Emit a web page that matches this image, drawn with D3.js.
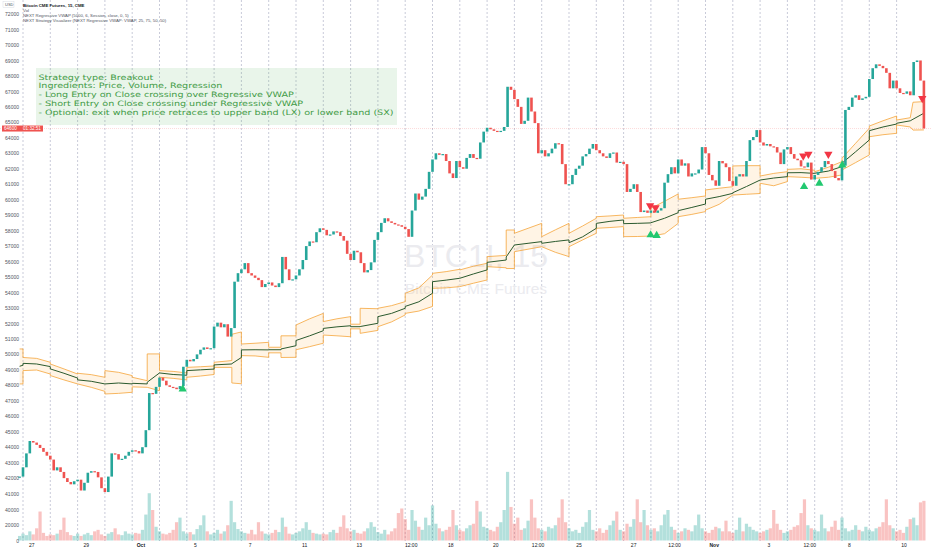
<!DOCTYPE html>
<html>
<head>
<meta charset="utf-8">
<style>
    body { margin: 0; background: #ffffff; }
    svg { display: block; font-family: "Liberation Sans", Arial, sans-serif; }
    .axis .domain { display: none; }
    .axis .tick line { display: none; }
    .axis .tick text { font-size: 5px; fill: #50535e; }
    .x.axis .tick text { fill: #131722; }
</style>
</head>
<body>
<svg width="932" height="550"></svg>

<script src="https://d3js.org/d3.v7.min.js"></script>
<script>

// closes, one bar per 1/8 session (first value sits just before session 0)
let closes = [42100,
    42700, 43600, 44400, 44300, 44150, 43950, 43700, 43450,
    43200, 42500, 42700, 42400, 42000, 41750, 41600, 41800,
    41900, 41200, 41700, 42350, 42450, 42400, 42050, 41350,
    41100, 42100, 43600, 43550, 43200, 43250, 43450, 43700,
    43800, 43750, 43600, 44000, 45100, 47500, 47450, 47900,
    48500, 48300, 48000, 47900, 47850, 47750, 47950, 49200,
    49650, 49550, 49700, 50000, 50300, 50450, 50350, 50400,
    51800, 52050, 51750, 51950, 51150, 51700, 54700, 55250,
    55500, 55900, 55250, 55100, 54950, 54800, 54350, 54550,
    54650, 54450, 54350, 54600, 56300, 55500, 54800, 54850,
    55100, 55500, 56100, 57000, 57300, 57250, 57900, 58150,
    58050, 57700, 57750, 57950, 57900, 57650, 57350, 56500,
    56100, 56700, 56600, 55900, 55300, 55450, 55950, 57400,
    57900, 58500, 58800, 58600, 58500, 58400, 58350, 58250,
    58100, 57600, 59300, 60400, 60000, 60200, 60700, 61800,
    62600, 63000, 62900, 62950, 62500, 61700, 61400, 62500,
    62100, 62000, 62700, 62950, 62700, 62650, 63700, 64400,
    64650, 64550, 64450, 64400, 64450, 64700, 67300, 67100,
    66500, 66000, 64900, 65100, 66600, 65700, 64950, 63000,
    63200, 62800, 63000, 63300, 63650, 63600, 62300, 61000,
    61000, 61600, 62000, 62200, 62800, 62950, 63300, 63600,
    63200, 63000, 62800, 62700, 63000, 63050, 62400, 62450,
    62300, 60500, 60700, 61000, 60500, 59200, 59300, 59150,
    59300, 59150, 59300, 59450, 61100, 61650, 62100, 61700,
    62600, 62200, 62350, 61500, 61700, 61700, 61950, 63400,
    63000, 61600, 61250, 60900, 62500, 62350, 62100, 61200,
    60900, 61500, 61650, 61500, 62500, 63850, 64050, 64500,
    63700, 63500, 63600, 63450, 63400, 63050, 62300, 63250,
    63400, 62950, 62650, 62550, 62150, 62100, 62400, 61300,
    61600, 61800, 62100, 62500, 62300, 61850, 61400, 61250,
    62200, 65800, 66000, 66600, 66750, 66450, 66550, 66650,
    67800, 68500, 68750, 68650, 68500, 68200, 67200, 67700,
    67200, 66900, 66850, 67000, 66750, 68900, 69000, 67700, 64600]

let volumes = [6000,
    9000, 7000, 12000, 8000, 16000, 38000, 10000, 6000,
    8000, 7000, 9000, 14000, 30000, 11000, 7000, 6000,
    9000, 6000, 8000, 10000, 7000, 12000, 14000, 8000,
    6000, 9000, 11000, 16000, 8000, 7000, 12000, 9000,
    8000, 10000, 9000, 14000, 34000, 62000, 40000, 18000,
    12000, 9000, 8000, 10000, 14000, 24000, 30000, 12000,
    9000, 11000, 8000, 15000, 20000, 33000, 12000, 8000,
    10000, 14000, 9000, 12000, 20000, 52000, 24000, 15000,
    12000, 10000, 9000, 14000, 8000, 24000, 12000, 9000,
    8000, 10000, 14000, 11000, 30000, 18000, 9000, 8000,
    10000, 12000, 16000, 24000, 14000, 10000, 9000, 8000,
    9000, 8000, 11000, 14000, 10000, 18000, 33000, 16000,
    12000, 14000, 10000, 9000, 12000, 16000, 24000, 18000,
    11000, 9000, 14000, 8000, 12000, 16000, 36000, 42000,
    28000, 14000, 40000, 26000, 18000, 14000, 30000, 20000,
    46000, 22000, 16000, 12000, 14000, 18000, 40000, 20000,
    14000, 12000, 16000, 20000, 22000, 52000, 38000, 18000,
    16000, 14000, 12000, 18000, 24000, 40000, 90000, 44000,
    22000, 30000, 14000, 16000, 26000, 54000, 30000, 16000,
    14000, 12000, 18000, 16000, 20000, 30000, 54000, 24000,
    16000, 12000, 14000, 10000, 18000, 24000, 40000, 14000,
    12000, 16000, 10000, 14000, 20000, 26000, 38000, 14000,
    12000, 22000, 18000, 28000, 54000, 24000, 40000, 20000,
    14000, 16000, 12000, 20000, 34000, 40000, 18000, 14000,
    10000, 12000, 16000, 14000, 12000, 20000, 34000, 16000,
    12000, 10000, 14000, 18000, 16000, 12000, 26000, 12000,
    10000, 14000, 30000, 12000, 22000, 18000, 14000, 12000,
    10000, 12000, 14000, 16000, 40000, 22000, 14000, 10000,
    12000, 14000, 18000, 20000, 36000, 54000, 20000, 16000,
    14000, 12000, 34000, 16000, 12000, 18000, 26000, 14000,
    30000, 16000, 12000, 14000, 20000, 14000, 12000, 18000,
    14000, 12000, 16000, 18000, 24000, 54000, 20000, 16000,
    12000, 14000, 10000, 18000, 28000, 30000, 20000, 50000, 52000]

// regressive vwap + bands, time in sessions (repeated time = session reset)
let bandT = [-0.125, 0, 0, 0.5, 1, 1, 1.5, 2, 2, 2.5, 3, 3, 3.5, 4, 4, 4.55, 4.55, 5,
    5, 5.5, 6, 6, 6.5, 7, 7, 7.65, 7.65, 8, 8, 8.5, 9, 9, 9.45, 9.45, 10,
    10, 10.5, 11, 11, 11.5, 12, 12, 12.35, 12.35, 13, 13, 13.5, 14, 14, 14.5, 15,
    15, 15.5, 16, 16, 16.5, 17, 17, 17.7, 17.7, 18, 18, 18.5, 19, 19, 19.5, 20,
    20, 20.5, 21, 21, 21.5, 22, 22, 22.5, 23, 23, 23.5, 24, 24, 24.5, 25,
    25, 25.5, 26, 26, 26.5, 27, 27, 27.5, 28, 28, 28.5, 29, 29, 29.5, 30,
    30, 30.5, 31, 31, 31.5, 32, 32, 32.5, 32.6, 33]
let bandUpper = [50350, 50350, 49800, 49740, 49490, 49380, 49060, 48730, 48780, 48690, 48520, 48950, 48840, 48630, 48520, 48300, 50030, 50030,
    48950, 48900, 48800, 49160, 49200, 49250, 49490, 49600, 51300, 51450, 50670, 50720, 50780, 50460, 50460, 51200, 51200,
    51900, 52300, 52650, 52120, 52300, 52440, 51950, 51950, 52980, 52950, 52980, 53150, 53410, 53950, 54300, 55130,
    55240, 55350, 55500, 55460, 55700, 55890, 56320, 56400, 58040, 58040, 57830, 58150, 58470, 57610, 58050, 58470,
    57830, 58300, 58800, 58900, 58950, 59010, 58800, 58850, 58900, 59440, 59900, 60370, 60030, 60130, 60240,
    60630, 60740, 60840, 62180, 62200, 62200, 61530, 61700, 61810, 61960, 62000, 61900, 61810, 62100, 62460,
    62680, 63650, 64620, 64760, 65100, 65410, 65150, 65300, 66300, 66340]
let bandVwap = [49230, 49300, 49420, 49380, 49210, 49060, 48780, 48470, 48350, 48260, 48090, 48090, 48150, 48090, 48130, 48090, 48200, 48800,
    48800, 48700, 48650, 48950, 49000, 49050, 49320, 49380, 49400, 49800, 50290, 50300, 50290, 50300, 50300, 50350, 50560,
    50900, 51200, 51530, 51680, 51780, 51850, 51790, 51790, 51800, 52010, 52440, 52650, 52980, 53100, 53400, 53950,
    54700, 54800, 54920, 54920, 55200, 55460, 55950, 56100, 56300, 57070, 57070, 57180, 57290, 57180, 57300, 57400,
    57220, 57600, 58150, 58470, 58600, 58690, 58450, 58470, 58500, 58510, 58800, 59160, 59290, 59500, 59720,
    60030, 60200, 60410, 60450, 60850, 61270, 61270, 61400, 61490, 61740, 61750, 61700, 61710, 61850, 62140,
    62360, 63100, 63860, 64460, 64700, 64890, 64940, 65100, 65200, 65590]
let bandLower = [48090, 48090, 48950, 48990, 48730, 48630, 48350, 48090, 48090, 47870, 47610, 47440, 47480, 47550, 47900, 47870, 47870, 47650,
    48520, 48450, 48350, 48520, 48600, 48700, 49160, 49160, 48150, 48100, 49920, 49900, 49810, 50100, 50100, 49800, 49810,
    50300, 50500, 50720, 51250, 51200, 51140, 51650, 51650, 51360, 51550, 51790, 52100, 52550, 52650, 52800, 53100,
    54270, 54300, 54380, 54380, 54600, 54810, 55670, 55600, 55550, 55550, 56640, 56800, 56960, 56960, 56600, 56320,
    56960, 57400, 57830, 58150, 58200, 58260, 57610, 57620, 57650, 57650, 57800, 58470, 58900, 59050, 59230,
    59330, 59700, 60300, 60300, 60350, 60400, 61060, 60900, 61170, 61490, 61450, 61400, 61380, 61450, 61600,
    61920, 62400, 62890, 64070, 64200, 64290, 64830, 64700, 64500, 64510]

// strategy entries
let longT = [5.85, 22.99, 23.21, 28.61, 29.17, 30.01]
let longP = [47760, 57720, 57680, 60840, 61060, 62240]
let shortT = [22.97, 23.17, 28.58, 28.77, 29.5, 32.94]
let shortP = [59610, 59480, 62830, 62940, 62940, 66550]

// axis labels
let priceTicks = d3.range(41000, 72001, 1000)
let volTicks = [0, 20000, 40000]
let dateLabels = ["27", "29", "Oct", "5", "7", "11", "13", "12:00", "18", "20", "12:00", "25", "27", "12:00", "Nov", "3", "12:00", "8", "10"]
let dateT = [0.3, 2.3, 4.3, 6.3, 8.3, 10.3, 12.3, 14.2, 15.65, 17.3, 18.85, 20.35, 22.35, 23.85, 25.3, 27.3, 28.8, 30.25, 32.25]
let sessions = d3.range(0, 33)

let textLines = [
    "Strategy type: Breakout",
    "Ingredients: Price, Volume, Regression",
    "- Long Entry on Close crossing over Regressive VWAP",
    "- Short Entry on Close crossing under Regressive VWAP",
    "- Optional: exit when price retraces to upper band (LX) or lower band (SX)"
]
let headerLines = [
    "Bitcoin CME Futures, 15, CME",
    "Vol",
    "NEXT Regressive VWAP (5000, 6, Session, close, 0, 5)",
    "NEXT Strategy Visualizer (NEXT Regressive VWAP: VWAP, 25, 75, 50, 50)"
]

let upColor = "#26a69a"
let downColor = "#ef5350"

let svg = d3.select("svg")

let x = d3.scaleLinear().domain([0, 32]).range([23, 896.6])
let y = d3.scaleLinear().domain([41000, 70000]).range([493.6, 45])
let yVol = d3.scaleLinear().domain([0, 40000]).range([540.5, 510])

let bars = closes.map(function (c, j) {
    return {
        t: (j - 1) / 8,
        open: j == 0 ? c : closes[j - 1],
        close: c,
        vol: volumes[j]
    }
})

// session separators
svg.append("g")
    .selectAll("line")
    .data(sessions)
    .join("line")
    .attr("x1", d => x(d)).attr("x2", d => x(d))
    .attr("y1", 0).attr("y2", 541)
    .style("stroke", "#b2b5c8")
    .style("stroke-width", 0.7)
    .style("stroke-dasharray", "2,2")

// watermark
svg.append("text")
    .attr("x", 476).attr("y", 267)
    .attr("text-anchor", "middle")
    .style("font-size", "32px")
    .style("fill", "#ebebef")
    .text("BTC1!, 15")
svg.append("text")
    .attr("x", 476).attr("y", 294)
    .attr("text-anchor", "middle")
    .style("font-size", "15.5px")
    .style("fill", "#ebebef")
    .text("Bitcoin CME Futures")

// volume
svg.append("g")
    .selectAll("rect")
    .data(bars)
    .join("rect")
    .attr("x", d => x(d.t) - 1.6)
    .attr("width", 3.2)
    .attr("y", d => yVol(d.vol))
    .attr("height", d => yVol(0) - yVol(d.vol))
    .style("fill", d => d.close >= d.open ? upColor : downColor)
    .style("opacity", 0.35)

// bands
let band = bandT.map(function (t, i) {
    return { t: t, up: bandUpper[i], vw: bandVwap[i], lo: bandLower[i] }
})

svg.append("path")
    .datum(band)
    .attr("d", d3.area().x(d => x(d.t)).y0(d => y(d.lo)).y1(d => y(d.up)))
    .style("fill", "#ff9800")
    .style("fill-opacity", 0.1)

svg.append("path")
    .datum(band)
    .attr("d", d3.line().x(d => x(d.t)).y(d => y(d.up)))
    .style("fill", "none")
    .style("stroke", "#f5a53a")
    .style("stroke-width", 0.8)

svg.append("path")
    .datum(band)
    .attr("d", d3.line().x(d => x(d.t)).y(d => y(d.lo)))
    .style("fill", "none")
    .style("stroke", "#f5a53a")
    .style("stroke-width", 0.8)

svg.append("path")
    .datum(band)
    .attr("d", d3.line().x(d => x(d.t)).y(d => y(d.vw)))
    .style("fill", "none")
    .style("stroke", "#2b5a2e")
    .style("stroke-width", 1)

// last price line
let last = closes[closes.length - 1]
svg.append("line")
    .attr("x1", 0).attr("x2", 932)
    .attr("y1", y(last)).attr("y2", y(last))
    .style("stroke", "#ef5350")
    .style("stroke-opacity", 0.35)
    .style("stroke-width", 0.6)
    .style("stroke-dasharray", "1,1")

// candles
svg.append("g")
    .selectAll("rect")
    .data(bars)
    .join("rect")
    .attr("x", d => x(d.t) - 1.3)
    .attr("width", 2.6)
    .attr("y", d => y(Math.max(d.open, d.close)))
    .attr("height", d => Math.max(1.2, Math.abs(y(d.open) - y(d.close))))
    .style("fill", d => d.close >= d.open ? upColor : downColor)

// entry markers
let tri = d3.symbol().type(d3.symbolTriangle).size(30)
svg.append("g")
    .selectAll("path")
    .data(longT)
    .join("path")
    .attr("d", tri)
    .attr("transform", (d, i) => `translate(${x(d)},${y(longP[i])})`)
    .style("fill", "#22c870")

svg.append("g")
    .selectAll("path")
    .data(shortT)
    .join("path")
    .attr("d", tri)
    .attr("transform", (d, i) => `translate(${x(d)},${y(shortP[i])}) rotate(180)`)
    .style("fill", "#f23645")

// strategy text box
let box = svg.append("g")
box.append("rect")
    .attr("x", 36).attr("y", 68)
    .attr("width", 361).attr("height", 57)
    .style("fill", "#4caf50")
    .style("fill-opacity", 0.12)

let lines = box.selectAll("text")
    .data(textLines)
    .join("text")
    .attr("x", 38.5)
    .attr("y", (d, i) => 79.5 + i * 8.9)
    .style("font-family", "'DejaVu Sans', sans-serif")
    .style("font-size", "7.4px")
    .style("fill", "#3f9b45")
    .text(d => d)

// stretch lines so the longest one spans the reference width
let longest = lines.filter((d, i) => i == textLines.length - 1).node().getComputedTextLength()
lines.each(function () {
    let w = this.getComputedTextLength()
    d3.select(this)
        .attr("textLength", w * 355 / longest)
        .attr("lengthAdjust", "spacingAndGlyphs")
})

// axes
svg.append("g")
    .attr("class", "y axis")
    .attr("transform", "translate(20,0)")
    .call(d3.axisLeft(y).tickValues(priceTicks).tickSize(0).tickPadding(1).tickFormat(d3.format("d")))

svg.append("g")
    .attr("class", "y axis")
    .attr("transform", "translate(20,0)")
    .call(d3.axisLeft(yVol).tickValues(volTicks).tickSize(0).tickPadding(1).tickFormat(d3.format("d")))

let xAxis = svg.append("g")
    .attr("class", "x axis")
    .attr("transform", "translate(0,542)")
    .call(d3.axisBottom(x).tickValues(dateT).tickSize(0).tickPadding(1.5).tickFormat((d, i) => dateLabels[i]))
xAxis.selectAll(".tick text")
    .style("font-weight", (d, i) => (dateLabels[i] == "Oct" || dateLabels[i] == "Nov") ? "bold" : "normal")

// last price label
svg.append("rect")
    .attr("x", 2).attr("y", y(last) - 3)
    .attr("width", 41).attr("height", 6)
    .style("fill", "#ef5350")
svg.append("text")
    .attr("x", 4).attr("y", y(last) + 1.7)
    .style("font-size", "4.6px").style("fill", "#fff")
    .text(d3.format("d")(last))
svg.append("text")
    .attr("x", 23).attr("y", y(last) + 1.7)
    .style("font-size", "4.6px").style("fill", "#fff")
    .text("01:32:51")

// header
svg.append("rect")
    .attr("x", 3).attr("y", 1.5)
    .attr("width", 11).attr("height", 6)
    .style("fill", "#fff")
    .style("stroke", "#d1d4dc")
    .style("stroke-width", 0.4)
svg.append("text")
    .attr("x", 5).attr("y", 6)
    .style("font-size", "4px").style("fill", "#50535e")
    .text("USD")

svg.append("g")
    .selectAll("text")
    .data(headerLines)
    .join("text")
    .attr("x", 23)
    .attr("y", (d, i) => 6.5 + i * 5.2)
    .style("font-size", "4.3px")
    .style("font-weight", (d, i) => i == 0 ? "bold" : "normal")
    .style("fill", (d, i) => i == 0 ? "#131722" : "#50535e")
    .text(d => d)

</script>
</body>
</html>
